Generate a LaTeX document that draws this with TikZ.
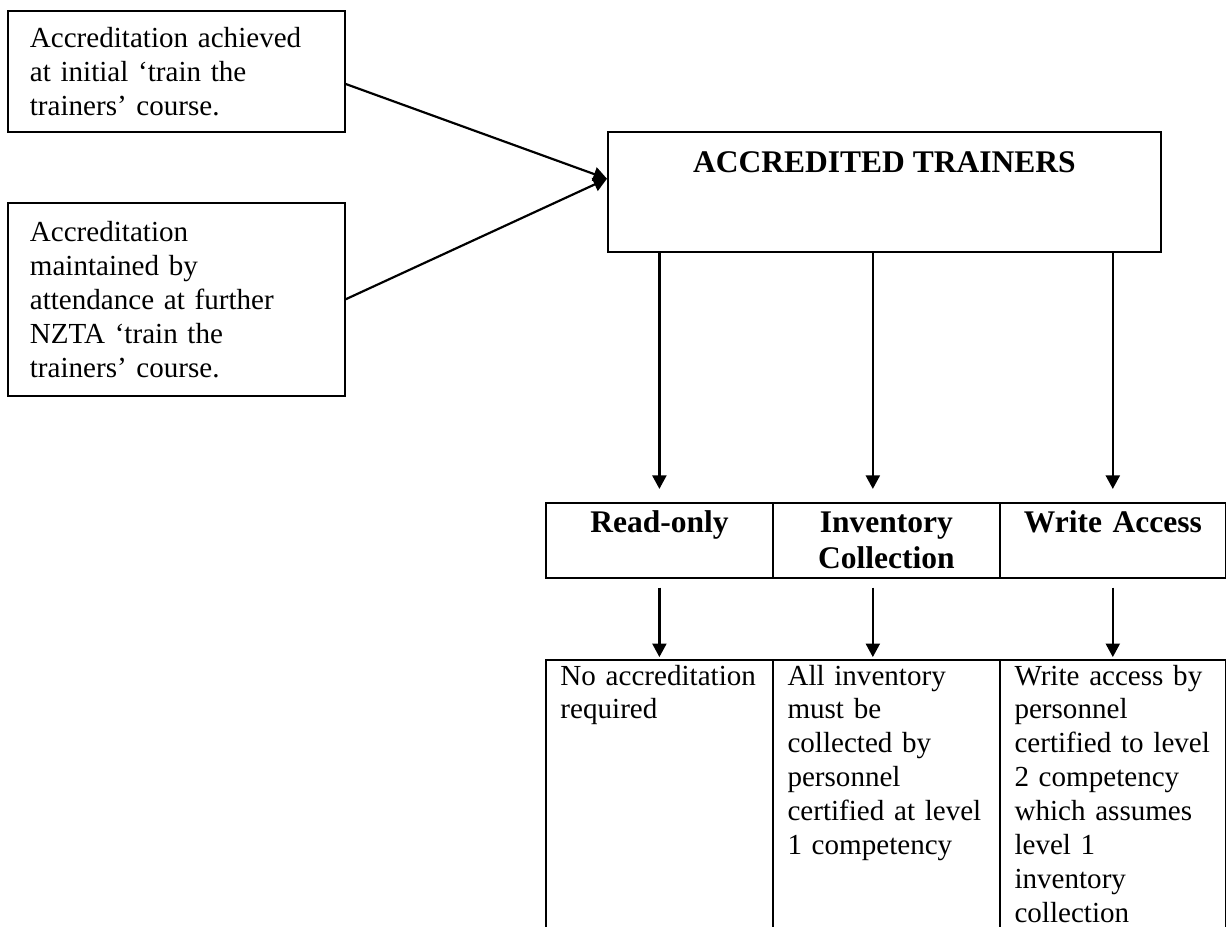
\documentclass[tikz,border=0pt]{standalone}
\usepackage{fontspec}
\setmainfont{Liberation Serif}
\usetikzlibrary{arrows.meta, positioning, calc}

\begin{document}
\begin{tikzpicture}[
    x=0.4126pt, y=-0.4126pt,
    box/.style={rectangle, draw, line width=0.7pt, inner sep=0pt, anchor=north west},
    note/.style={box, inner xsep=9.1pt, text width=120.8pt, minimum width=139pt,
                 align=left, font=\fontsize{12}{14}\selectfont},
    cell/.style={box, minimum width=93.7pt},
    head/.style={anchor=base, inner sep=0pt, text width=90pt, align=center,
                 font=\fontsize{13}{15}\selectfont\bfseries},
    body/.style={anchor=base west, inner sep=0pt, text width=95pt, align=left,
                 font=\fontsize{12}{14}\selectfont},
    arr/.style={-{Triangle[length=5.6pt, width=5.8pt]}, line width=0.9pt},
]
\clip (0,0) rectangle (1226,926);

% Ways of gaining accreditation
\node[note, minimum height=49.9pt] (achieved) at (7,10)
      {Accreditation achieved\\at initial `train the\\trainers' course.};
\node[note, minimum height=79.6pt] (maintained) at (7,202)
      {Accreditation\\maintained by\\attendance at further\\NZTA `train the\\trainers' course.};

% Trainers
\node[box, minimum width=228.2pt, minimum height=49.5pt] (trainers) at (607,131) {};
\node[anchor=base, inner sep=0pt, font=\fontsize{13}{15}\selectfont\bfseries]
      (trainerstitle) at ($(trainers.north)+(0,41)$) {ACCREDITED TRAINERS};

% Access levels
\node[cell, minimum height=30.9pt] (readonly) at (545,502) {};
\node[cell, minimum height=30.9pt] (inventory) at (772,502) {};
\node[cell, minimum height=30.9pt, minimum width=93.2pt] (writeacc) at (999,502) {};
\node[head] (readonlytxt) at ($(readonly.north)+(0,30)$) {Read-only};
\node[head] (inventorytxt) at ($(inventory.north)+(0,30)$) {Inventory\\Collection};
\node[head] (writeacctxt) at ($(writeacc.north)+(0,30)$) {Write Access};

% Requirements
\node[cell, minimum height=115.9pt] (readonlyreq) at (545,659) {};
\node[cell, minimum height=115.9pt] (inventoryreq) at (772,659) {};
\node[cell, minimum height=115.9pt, minimum width=93.2pt] (writeaccreq) at (999,659) {};
\node[body] (readonlyreqtxt) at ($(readonlyreq.north west)+(15,26)$)
      {No accreditation\\required};
\node[body] (inventoryreqtxt) at ($(inventoryreq.north west)+(15,26)$)
      {All inventory\\must be\\collected by\\personnel\\certified at level\\1 competency};
\node[body] (writeaccreqtxt) at ($(writeaccreq.north west)+(15,26)$)
      {Write access by\\personnel\\certified to level\\2 competency\\which assumes\\level 1\\inventory\\collection};

% Arrows
\draw[arr] ([yshift=-5.2pt]achieved.east) -- ([yshift=5.4pt]trainers.west);
\draw[arr] (maintained.east) -- ([yshift=5.4pt]trainers.west);

\draw[arr, shorten >=5.4pt] (trainers.south -| readonly.north) -- (readonly.north);
\draw[arr, shorten >=5.4pt] ([xshift=-5.6pt]inventory.north |- trainers.south) -- ([xshift=-5.6pt]inventory.north);
\draw[arr, shorten >=5.4pt] (trainers.south -| writeacc.north) -- (writeacc.north);

\draw[arr, shorten <=3.7pt, shorten >=0.8pt] (readonly.south) -- (readonlyreq.north);
\draw[arr, shorten <=3.7pt, shorten >=0.8pt] ([xshift=-5.6pt]inventory.south) -- ([xshift=-5.6pt]inventoryreq.north);
\draw[arr, shorten <=3.7pt, shorten >=0.8pt] (writeacc.south) -- (writeaccreq.north);

\end{tikzpicture}
\end{document}
